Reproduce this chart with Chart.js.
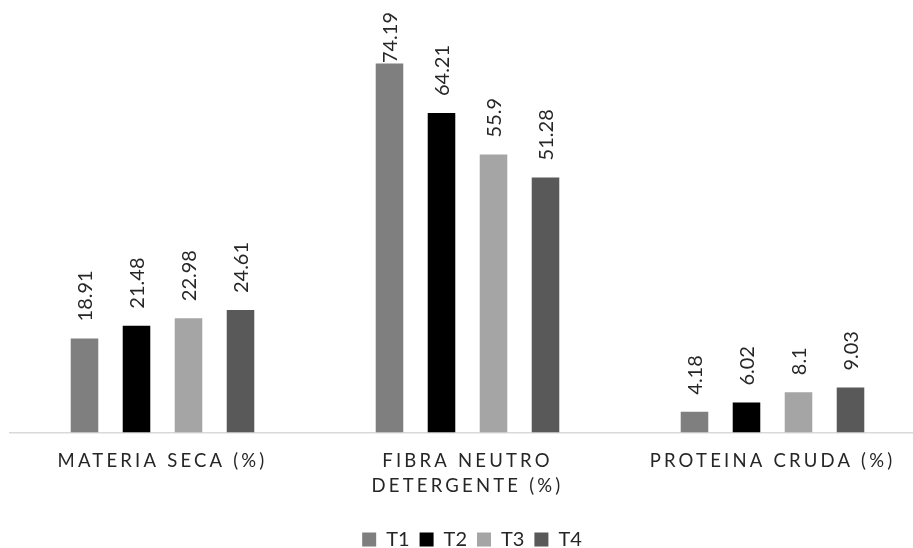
<!DOCTYPE html>
<html><head><meta charset="utf-8">
<script src="https://cdn.jsdelivr.net/npm/chart.js@4"></script>
<style>html,body{margin:0;padding:0;background:#fff;overflow:hidden}#wrap{position:relative;width:925px;height:548px}</style>
</head><body><div id="wrap"><canvas id="c"></canvas></div>
<script>
const categories = ['MATERIA SECA (%)', ['FIBRA NEUTRO', 'DETERGENTE (%)'], 'PROTEINA CRUDA (%)'];
const seriesNames = ['T1', 'T2', 'T3', 'T4'];
const t1 = [18.91, 74.19, 4.18];
const t2 = [21.48, 64.21, 6.02];
const t3 = [22.98, 55.9, 8.1];
const t4 = [24.61, 51.28, 9.03];
const yMin = 0;
const yMax = 80;
const colors = ['#7f7f7f', '#000000', '#a5a5a5', '#595959'];
const seriesValues = [t1, t2, t3, t4];

const valueLabels = {
  id: 'valueLabels',
  afterDatasetsDraw(chart) {
    const ctx = chart.ctx;
    ctx.save();
    ctx.font = '20px Lato';
    ctx.fillStyle = '#262626';
    ctx.textAlign = 'left';
    ctx.textBaseline = 'middle';
    chart.data.datasets.forEach((ds, i) => {
      const meta = chart.getDatasetMeta(i);
      meta.data.forEach((bar, j) => {
        const txt = String(ds.data[j]);
        const w = ctx.measureText(txt).width;
        let start = bar.y - 17;
        if (start - w < 12) start = 12 + w;
        ctx.save();
        ctx.translate(bar.x + 1, start);
        ctx.rotate(-Math.PI / 2);
        ctx.fillText(txt, 0, 0);
        ctx.restore();
      });
    });
    ctx.restore();
  }
};

const spacingPatch = {
  id: 'spacingPatch',
  afterUpdate(chart) {
    const s = chart.scales.x;
    if (s && !s._lsPatched) {
      const orig = s.drawLabels;
      s.drawLabels = function (a) {
        const ctx = this.ctx;
        ctx.save();
        ctx.letterSpacing = '3.2px';
        orig.call(this, a);
        ctx.restore();
      };
      s._lsPatched = true;
    }
  },
  afterLayout(chart) {
    const lg = chart.legend;
    if (lg) { lg.left += 4.5; lg.right += 4.5; lg.top += 5; lg.bottom += 5; }
  }
};

new Chart(document.getElementById('c'), {
  type: 'bar',
  data: {
    labels: categories,
    datasets: seriesNames.map((n, i) => ({
      label: n,
      data: seriesValues[i],
      backgroundColor: colors[i],
      borderWidth: 0,
      barPercentage: 0.53,
      categoryPercentage: 0.682
    }))
  },
  options: {
    responsive: true,
    maintainAspectRatio: false,
    animation: false,
    devicePixelRatio: 1,
    layout: { padding: { top: 34.5, left: 10, right: 0, bottom: -6.5 } },
    plugins: {
      legend: {
        position: 'bottom',
        labels: { boxWidth: 14, boxHeight: 14, padding: 10, color: '#262626', font: { family: 'Lato', size: 20 } }
      },
      tooltip: { enabled: false }
    },
    scales: {
      x: {
        grid: { display: false, drawTicks: false },
        border: { display: true, color: '#d9d9d9', width: 1.5 },
        ticks: { color: '#262626', font: { family: 'Lato', size: 18.5, lineHeight: '25px' }, padding: 16, maxRotation: 0, autoSkip: false }
      },
      y: { display: false, min: yMin, max: yMax }
    }
  },
  plugins: [valueLabels, spacingPatch]
});
</script></body></html>
